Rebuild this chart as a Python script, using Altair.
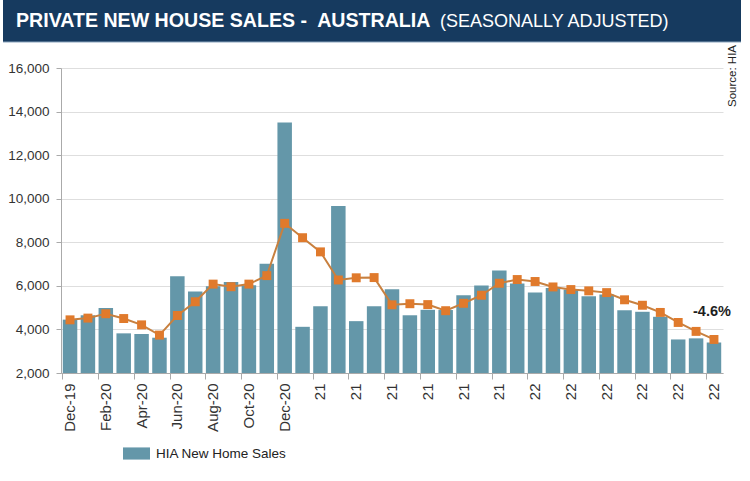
import altair as alt
import pandas as pd

months = ["Dec-19", "Jan-20", "Feb-20", "Mar-20", "Apr-20", "May-20", "Jun-20", "Jul-20",
          "Aug-20", "Sep-20", "Oct-20", "Nov-20", "Dec-20", "Jan-21", "Feb-21", "Mar-21",
          "Apr-21", "May-21", "Jun-21", "Jul-21", "Aug-21", "Sep-21", "Oct-21", "Nov-21",
          "Dec-21", "Jan-22", "Feb-22", "Mar-22", "Apr-22", "May-22", "Jun-22", "Jul-22",
          "Aug-22", "Sep-22", "Oct-22", "Nov-22", "Dec-22"]
sales = [4450, 4650, 4980, 3820, 3790, 3620, 6440, 5740,
         5980, 6180, 6030, 7010, 13500, 4120, 5060, 9670,
         4380, 5060, 5840, 4650, 4900, 4890, 5570, 6020,
         6700, 6110, 5700, 5900, 5830, 5520, 5600, 4880,
         4810, 4580, 3540, 3590, 3400]
avg3 = [4440, 4520, 4720, 4500, 4210, 3740, 4640, 5270,
        6080, 5960, 6080, 6470, 8870, 8210, 7560, 6270,
        6370, 6380, 5130, 5180, 5140, 4860, 5200, 5570,
        6120, 6290, 6200, 5950, 5830, 5770, 5690, 5360,
        5110, 4780, 4320, 3910, 3540]
tick_months = months[::2]
y_ticks = [2000, 4000, 6000, 8000, 10000, 12000, 14000, 16000]
series_name = "HIA New Home Sales"
change_label = "-4.6%"
change_month = "Dec-22"
change_y = 4800
title_bold = "PRIVATE NEW HOUSE SALES -\u00a0 AUSTRALIA"
title_light = "(SEASONALLY ADJUSTED)"
source_note = "Source: HIA"

df = pd.DataFrame({"month": months, "sales": sales, "avg": avg3, "series": series_name})

FONT = "Liberation Sans"
BAR = "#6497a9"
ORANGE = "#e07a2c"
LINE = "#c8803f"
NAVY = "#163a5f"

W, H = 662, 305

base = alt.Chart(df)

x_enc = alt.X(
    "month:N", sort=months, title=None,
    scale=alt.Scale(paddingInner=0.19, paddingOuter=0.1),
    axis=alt.Axis(values=tick_months, labelAngle=270, bandPosition=0, tickExtra=False,
                  labelFont=FONT, labelFontSize=15, labelColor="#333333",
                  domainColor="#aaaaaa", tickColor="#aaaaaa", tickSize=6,
                  labelPadding=4, grid=False,
                  labelExpr="(slice(datum.value, -2) == '21' || slice(datum.value, -2) == '22') ? slice(datum.value, -2) : datum.value"),
)
y_scale = alt.Scale(domain=[2000, 16000], nice=False, zero=False)

bars = base.mark_bar().encode(
    x=x_enc,
    y=alt.Y("sales:Q", scale=y_scale, title=None,
            axis=alt.Axis(values=y_ticks, format=",d", labelFont=FONT, labelFontSize=13.5,
                          labelColor="#333333", domainColor="#aaaaaa", tickColor="#aaaaaa",
                          tickSize=5, labelPadding=7, gridColor="#dedede", gridWidth=1)),
    y2=alt.datum(2000),
    color=alt.Color("series:N", scale=alt.Scale(domain=[series_name], range=[BAR]),
                    legend=alt.Legend(title=None, orient="none", legendX=62, legendY=372,
                                      symbolType="M-1,-0.45H1V0.45H-1Z", symbolSize=729,
                                      symbolStrokeWidth=0, symbolOpacity=1,
                                      labelFont=FONT, labelFontSize=13.5, labelColor="#222222",
                                      labelOffset=6, padding=0)),
)

line = base.mark_line(color=LINE, strokeWidth=2).encode(
    x=alt.X("month:N", sort=months),
    y=alt.Y("avg:Q", scale=y_scale),
)
points = base.mark_point(shape="square", filled=True, size=80, color=ORANGE, opacity=1).encode(
    x=alt.X("month:N", sort=months),
    y=alt.Y("avg:Q", scale=y_scale),
)

ann = alt.Chart(pd.DataFrame({"month": [change_month], "v": [change_y], "t": [change_label]})).mark_text(
    font=FONT, fontSize=14.5, fontWeight="bold", color="#1e1e1e", align="center", baseline="middle", dx=-2
).encode(x=alt.X("month:N", sort=months), y=alt.Y("v:Q", scale=y_scale), text="t:N")

one = alt.Data(values=[{"a": 1}])
title_rect = alt.Chart(one).mark_rect(color=NAVY).encode(
    x=alt.value(-58), x2=alt.value(680), y=alt.value(-68), y2=alt.value(-26))
title_edge = alt.Chart(one).mark_rule(color="#8aa4bd", strokeWidth=1).encode(
    x=alt.value(-58), x2=alt.value(680), y=alt.value(-26))
t1 = alt.Chart(pd.DataFrame({"t": [title_bold]})).mark_text(
    font=FONT, fontSize=19.6, fontWeight="bold", color="white", align="left", baseline="alphabetic"
).encode(x=alt.value(-45), y=alt.value(-41), text="t:N")
t2 = alt.Chart(pd.DataFrame({"t": [title_light]})).mark_text(
    font=FONT, fontSize=18, color="white", align="left", baseline="alphabetic"
).encode(x=alt.value(379), y=alt.value(-41), text="t:N")
src = alt.Chart(pd.DataFrame({"t": [source_note]})).mark_text(
    font=FONT, fontSize=11.5, color="#222222", align="left", baseline="middle", angle=270
).encode(x=alt.value(672), y=alt.value(39), text="t:N")

chart = alt.layer(bars, line, points, ann, title_rect, title_edge, t1, t2, src).properties(
    width=W, height=H,
    padding={"left": 61, "top": 68, "right": 27, "bottom": 108},
    autosize=alt.AutoSizeParams(type="none"),
    background="white",
).configure_view(stroke=None)

chart.save("out.html", embed_options={"renderer": "svg", "actions": False})
